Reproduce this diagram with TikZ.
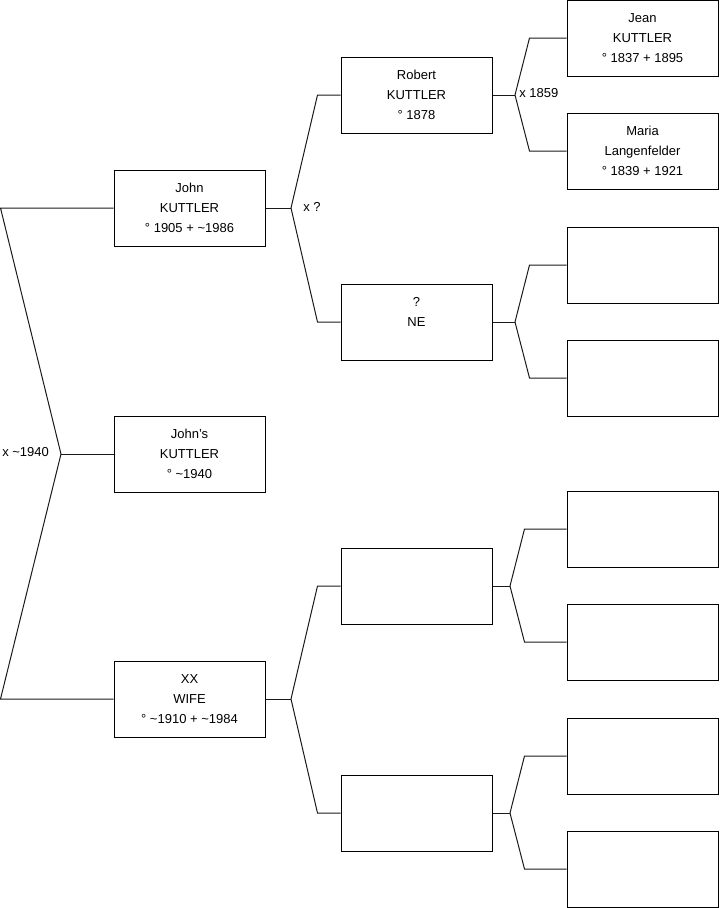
\documentclass[tikz,border=0pt]{standalone}
\usepackage{fontspec}
\setmainfont{Liberation Sans}
\usetikzlibrary{positioning,calc}
\definecolor{ftInk}{HTML}{000000}
\definecolor{ftLine}{HTML}{1A1A1A}
\tikzset{
  % Person box
  pbox/.style={rectangle,draw=ftInk,line width=0.75pt,
    minimum width=113.25pt,minimum height=57pt,inner sep=0pt,
    align=center,font=\fontsize{9.75}{15}\selectfont,text=ftInk},
  % Tree links
  link/.style={draw=ftLine,line width=0.75pt},
  % Marriage label
  lbl/.style={anchor=west,inner sep=0pt,
    font=\fontsize{9.75}{12}\selectfont,text=ftInk},
}

\begin{document}
\begin{tikzpicture}[x=0.75pt,y=-0.75pt]
  \useasboundingbox (0,0) rectangle (719,908);

  % generation 1
  \node[pbox] (john) at (189.5,208)
    {John\\KUTTLER\\° 1905 + \textasciitilde1986};
  \node[pbox] (johns) at (189.5,454)
    {John's\\KUTTLER\\° \textasciitilde1940};
  \node[pbox] (wife) at (189.5,699)
    {XX\\WIFE\\° \textasciitilde1910 + \textasciitilde1984};

  % generation 2
  \node[pbox] (robert) at (416.5,95) {Robert\\KUTTLER\\° 1878};
  \node[pbox] (ne) at (416.5,322) {?\\NE\\\mbox{}};
  \node[pbox] (wifeF) at (416.5,586) {};
  \node[pbox] (wifeM) at (416.5,813) {};

  % generation 3
  \node[pbox] (jean) at (642.5,38) {Jean\\KUTTLER\\° 1837 + 1895};
  \node[pbox] (maria) at (642.5,151)
    {Maria\\Langenfelder\\° 1839 + 1921};
  \node[pbox] (neF) at (642.5,265) {};
  \node[pbox] (neM) at (642.5,378) {};
  \node[pbox] (wfF) at (642.5,529) {};
  \node[pbox] (wfM) at (642.5,642) {};
  \node[pbox] (wmF) at (642.5,756) {};
  \node[pbox] (wmM) at (642.5,869) {};

  % fork points
  \coordinate (kTop) at (61,454);
  \coordinate (kJohn) at (291,208);
  \coordinate (kWife) at (291,699);
  \coordinate (kRobert) at (515,95);
  \coordinate (kNe) at (515,322);
  \coordinate (kWifeF) at (510,586);
  \coordinate (kWifeM) at (510,813);

  \node[lbl] (mTop) at (2,452) {x \textasciitilde1940};
  \node[lbl] (mJohn) at (303,207) {x ?};
  \node[lbl] (mRobert) at (519,93) {x 1859};

  \draw[link] (john.west) -- ++(-113,0) -- (kTop);
  \draw[link] (wife.west) -- ++(-113,0) -- (kTop);
  \draw[link] (johns.west) -- (kTop);

  \draw[link] (john.east) -- (kJohn);
  \draw[link] (robert.west) -- ++(-23,0) -- (kJohn);
  \draw[link] (ne.west) -- ++(-23,0) -- (kJohn);

  \draw[link] (wife.east) -- (kWife);
  \draw[link] (wifeF.west) -- ++(-23,0) -- (kWife);
  \draw[link] (wifeM.west) -- ++(-23,0) -- (kWife);

  \draw[link] (robert.east) -- (kRobert);
  \draw[link] (jean.west) -- ++(-37,0) -- (kRobert);
  \draw[link] (maria.west) -- ++(-37,0) -- (kRobert);

  \draw[link] (ne.east) -- (kNe);
  \draw[link] (neF.west) -- ++(-37,0) -- (kNe);
  \draw[link] (neM.west) -- ++(-37,0) -- (kNe);

  \draw[link] (wifeF.east) -- (kWifeF);
  \draw[link] (wfF.west) -- ++(-42,0) -- (kWifeF);
  \draw[link] (wfM.west) -- ++(-42,0) -- (kWifeF);

  \draw[link] (wifeM.east) -- (kWifeM);
  \draw[link] (wmF.west) -- ++(-42,0) -- (kWifeM);
  \draw[link] (wmM.west) -- ++(-42,0) -- (kWifeM);
\end{tikzpicture}
\end{document}
